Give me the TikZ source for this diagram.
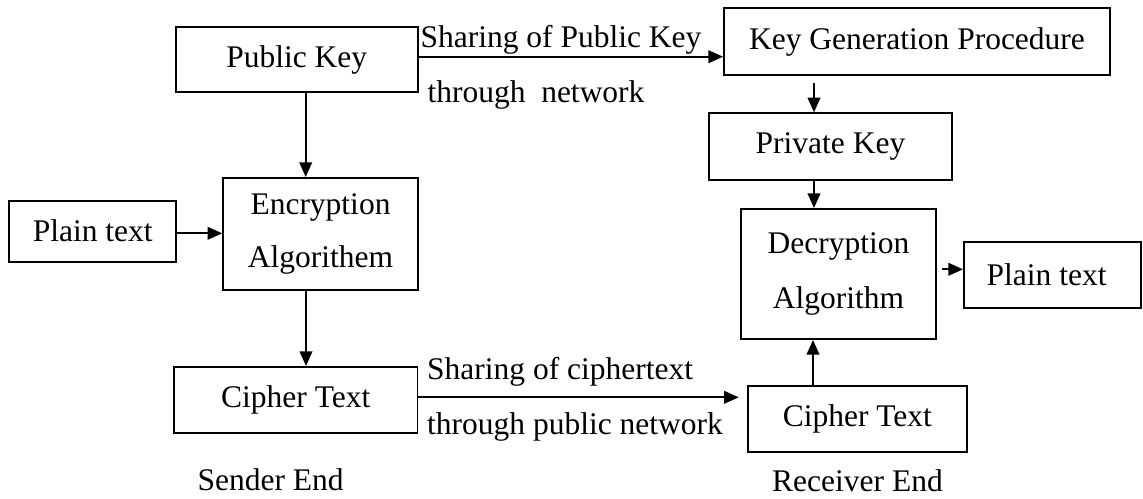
\documentclass[tikz,border=0pt]{standalone}
\usepackage{fontspec}
\setmainfont{Liberation Serif}
\usetikzlibrary{arrows.meta}
\begin{document}
\begin{tikzpicture}[x=0.381pt,y=-0.381pt,
  box/.style={draw,line width=0.75pt,inner sep=0pt,align=center,
    font=\fontsize{12}{20.5}\selectfont},
  lbl/.style={inner sep=0pt,anchor=base west,font=\fontsize{12}{14}\selectfont},
  arr/.style={line width=0.75pt,-{Triangle[length=5.6pt,width=4.8pt]}}]
\useasboundingbox (0,0) rectangle (1143,498);
% boxes
\node[box,minimum width=92.2pt,minimum height=25pt] (pub) at (296.7,59.5) {Public Key};
\node[box,minimum width=147pt,minimum height=25.4pt] (keygen) at (917,41.7) {Key Generation Procedure};
\node[box,minimum width=92.4pt,minimum height=25.4pt] (priv) at (830.5,146.7) {Private Key};
\node[box,minimum width=74.1pt,minimum height=42.7pt] (enc) at (320.5,234) {Encryption\\Algorithem};
\node[box,minimum width=63.5pt,minimum height=23.2pt] (plainL) at (92.7,231.2) {Plain text};
\node[box,minimum width=92.8pt,minimum height=25pt] (cipherL) at (295.7,399.8) {Cipher Text};
\node[box,minimum width=74.3pt,minimum height=49.5pt] (dec) at (838.5,274) {Decryption\\[0.5pt]Algorithm};
\node[box,minimum width=67.4pt,minimum height=25.1pt] (plainR) at (1052.5,275) {Plain text\hspace*{4.5pt}};
\node[box,minimum width=83.6pt,minimum height=25.1pt] (cipherR) at (857.3,419) {Cipher Text};
% connectors
\draw[arr] (pub.east |- 0,56.7) -- (keygen.west |- 0,56.7);
\draw[arr] ([yshift=-2.5pt]keygen.south -| 814,0) -- (priv.north -| 814,0);
\draw[arr] (priv.south -| 814,0) -- (dec.north -| 814,0);
\draw[arr] (pub.south -| 305.7,0) -- (enc.north -| 305.7,0);
\draw[arr] (plainL.east |- 0,233.3) -- (enc.west |- 0,233.3);
\draw[arr] (enc.south -| 306,0) -- (cipherL.north -| 306,0);
\draw[arr] (cipherL.east |- 0,397.3) -- ([xshift=-3pt]cipherR.west |- 0,397.3);
\draw[arr] (cipherR.north -| 813,0) -- (dec.south -| 813,0);
\draw[arr] ([xshift=1.9pt]dec.east |- 0,269.3) -- (plainR.west |- 0,269.3);
% labels
\node[lbl] (l1) at (420,47) {Sharing of Public Key};
\node[lbl] (l2) at (427,102) {through\ \ network};
\node[lbl] (l3) at (426.7,379) {Sharing of ciphertext};
\node[lbl] (l4) at (426.7,434) {through public network};
\node[lbl] (l5) at (197,490) {Sender End};
\node[lbl] (l6) at (771.7,491.7) {Receiver End};
\end{tikzpicture}
\end{document}
